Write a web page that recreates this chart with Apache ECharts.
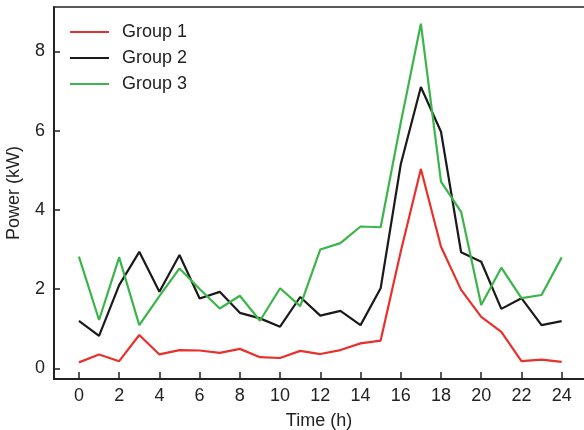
<!DOCTYPE html>
<html>
<head>
<meta charset="utf-8">
<script src="https://cdn.jsdelivr.net/npm/echarts@6/dist/echarts.min.js"></script>
<style>
  html, body { margin: 0; padding: 0; background: #fff; }
  #chart { width: 584px; height: 430px; }
</style>
</head>
<body>
<div id="chart"></div>
<script>
const hours = [0, 1, 2, 3, 4, 5, 6, 7, 8, 9, 10, 11, 12, 13, 14, 15, 16, 17, 18, 19, 20, 21, 22, 23, 24];
const group1 = [0.15, 0.35, 0.18, 0.84, 0.35, 0.46, 0.45, 0.39, 0.49, 0.28, 0.26, 0.44, 0.36, 0.46, 0.63, 0.70, 2.95, 5.03, 3.07, 1.98, 1.30, 0.92, 0.18, 0.22, 0.16];
const group2 = [1.20, 0.82, 2.10, 2.94, 1.93, 2.86, 1.76, 1.93, 1.40, 1.26, 1.05, 1.80, 1.33, 1.45, 1.09, 2.02, 5.15, 7.10, 5.97, 2.93, 2.69, 1.50, 1.77, 1.09, 1.19];
const group3 = [2.82, 1.22, 2.80, 1.09, 1.82, 2.52, 2.00, 1.51, 1.83, 1.20, 2.02, 1.57, 3.00, 3.16, 3.58, 3.56, 6.20, 8.70, 4.71, 3.95, 1.60, 2.54, 1.77, 1.85, 2.80];
const xTicks = [0, 2, 4, 6, 8, 10, 12, 14, 16, 18, 20, 22, 24];
const yTicks = [0, 2, 4, 6, 8];

const font = 'Liberation Sans, Arial, sans-serif';
const ink = '#222';
const chart = echarts.init(document.getElementById('chart'));

function makeSeries(name, values, color) {
  return {
    name: name,
    type: 'line',
    symbol: 'none',
    data: hours.map((h, i) => [h, values[i]]),
    lineStyle: { color: color, width: 2.2 },
    itemStyle: { color: color },
    animation: false
  };
}

chart.setOption({
  backgroundColor: '#fff',
  grid: { left: 54, top: 7, bottom: 51, right: 0, outerBoundsMode: 'none', containLabel: false },
  legend: {
    orient: 'vertical',
    left: 65,
    top: 18,
    icon: 'rect',
    itemWidth: 39,
    itemHeight: 2,
    itemGap: 8,
    textStyle: { fontFamily: font, fontSize: 18, color: ink, lineHeight: 18, padding: [0, 0, 0, 8] },
    data: ['Group 1', 'Group 2', 'Group 3']
  },
  xAxis: [
    {
      type: 'value',
      min: -1.24,
      max: 25.11,
      name: 'Time (h)',
      nameLocation: 'middle',
      nameGap: 33,
      nameTextStyle: { fontFamily: font, fontSize: 18, color: ink },
      axisLine: { onZero: false, lineStyle: { color: ink, width: 2 } },
      axisTick: { inside: true, length: 7, customValues: xTicks, lineStyle: { color: ink, width: 1.5 } },
      axisLabel: { customValues: xTicks, margin: 8, fontFamily: font, fontSize: 18, color: ink },
      splitLine: { show: false }
    },
    {
      // top edge of the box only
      type: 'value',
      position: 'top',
      min: -1.24,
      max: 25.11,
      axisLine: { onZero: false, lineStyle: { color: ink, width: 1.5 } },
      axisTick: { show: false },
      axisLabel: { show: false },
      splitLine: { show: false }
    }
  ],
  yAxis: {
    type: 'value',
    min: -0.27,
    max: 9.12,
    name: 'Power (kW)',
    nameLocation: 'middle',
    nameGap: 31,
    nameTextStyle: { fontFamily: font, fontSize: 18, color: ink },
    axisLine: { onZero: false, lineStyle: { color: ink, width: 2 } },
    axisTick: { inside: true, length: 6, customValues: yTicks, lineStyle: { color: ink, width: 1.5 } },
    axisLabel: { customValues: yTicks, margin: 9, fontFamily: font, fontSize: 18, color: ink },
    splitLine: { show: false }
  },
  series: [
    makeSeries('Group 1', group1, '#e6322b'),
    makeSeries('Group 2', group2, '#1a1a1a'),
    makeSeries('Group 3', group3, '#3bb54a')
  ]
});
</script>
</body>
</html>
